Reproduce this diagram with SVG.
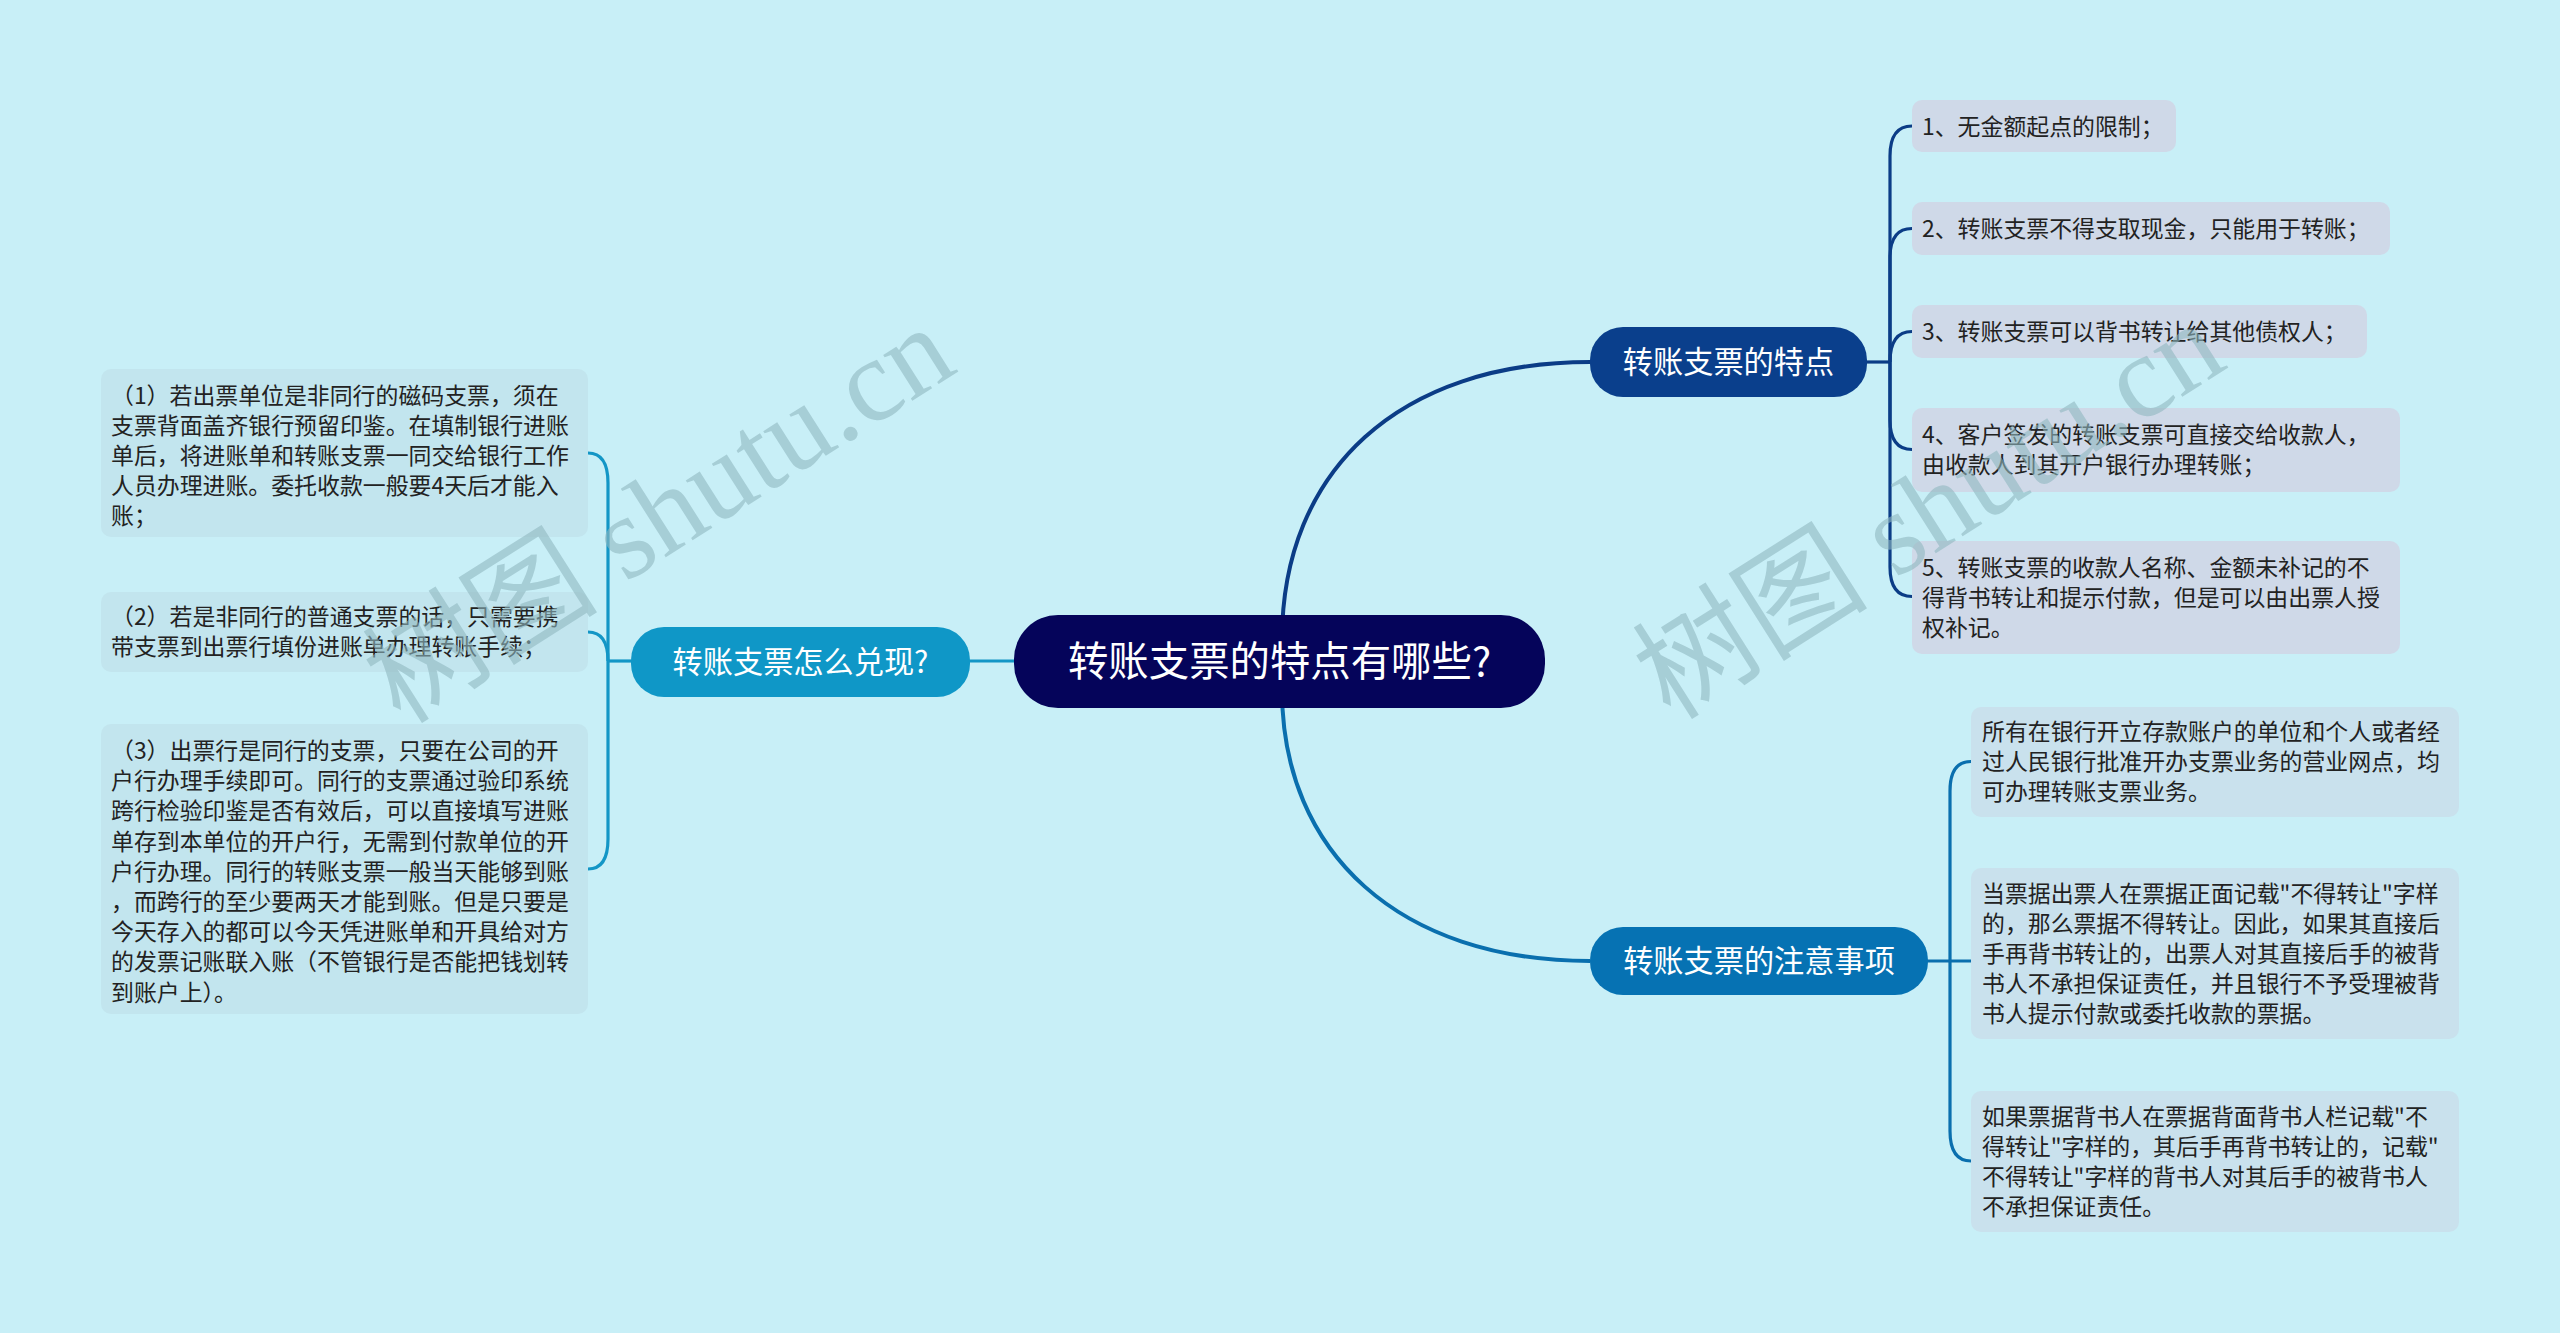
<svg xmlns="http://www.w3.org/2000/svg" width="2560" height="1333" viewBox="0 0 2560 1333">
<style>
.t{font-family:"Noto Sans CJK SC","Noto Sans",sans-serif;}
.leaf{font-size:22.9px;fill:#222222;}
.br{font-size:30.2px;fill:#ffffff;text-anchor:middle;}
.root{font-size:40.4px;fill:#ffffff;text-anchor:middle;}
.lf-l{fill:#c2e5ee;}
.lf-a{fill:#cfd9e8;}
.lf-b{fill:#c9e1ed;}
.c-l{fill:none;stroke:#1396c6;stroke-width:3.2;}
.c-a{fill:none;stroke:#0b3c86;stroke-width:3.2;}
.c-b{fill:none;stroke:#0a6fae;stroke-width:3.2;}
.wm{font-family:"Liberation Serif","Noto Sans CJK SC",serif;font-size:118px;fill:#8fb8bf;fill-opacity:0.6;text-anchor:middle;}
</style>
<rect x="0" y="0" width="2560" height="1333" fill="#c8eff7"/>

<g id="connectors">
  <path class="c-l" d="M1014,661 H970"/>
  <path class="c-a" style="stroke-width:4" d="M1282,640 C1282,470 1400,362 1590,362"/>
  <path class="c-b" style="stroke-width:4" d="M1282,690 C1282,853 1400,961 1590,961"/>
  <path class="c-l" d="M631,661 H608"/>
  <path class="c-l" d="M608,661 V483 Q608,453 588,453"/>
  <path class="c-l" d="M608,661 Q608,632 588,632"/>
  <path class="c-l" d="M608,661 V839 Q608,869 588,869"/>
  <path class="c-a" d="M1867,362 H1890"/>
  <path class="c-a" d="M1890,362 V156 Q1890,126 1912,126"/>
  <path class="c-a" d="M1890,362 V258 Q1890,228.5 1912,228.5"/>
  <path class="c-a" d="M1890,362 Q1890,331.5 1912,331.5"/>
  <path class="c-a" d="M1890,362 V420 Q1890,449.5 1912,449.5"/>
  <path class="c-a" d="M1890,362 V567 Q1890,596.5 1912,596.5"/>
  <path class="c-b" d="M1928,961 H1971"/>
  <path class="c-b" d="M1950,961 V791 Q1950,761.5 1971,761.5"/>
  <path class="c-b" d="M1950,961 V1131 Q1950,1161 1971,1161"/>
</g>

<g id="root">
  <rect x="1014" y="615" width="531" height="93" rx="44" fill="#05045a"/>
  <text class="t root" x="1279.5" y="676">转账支票的特点有哪些?</text>
</g>

<g id="branch-left">
  <rect x="631" y="627" width="339" height="70" rx="33" fill="#0f97c7"/>
  <text class="t br" x="800.5" y="673">转账支票怎么兑现?</text>
</g>

<g id="branch-r1">
  <rect x="1590" y="327" width="277" height="70" rx="33" fill="#0a3f8c"/>
  <text class="t br" x="1728.5" y="373">转账支票的特点</text>
</g>

<g id="branch-r2">
  <rect x="1590" y="927" width="338" height="68" rx="33" fill="#0672b3"/>
  <text class="t br" x="1759" y="972">转账支票的注意事项</text>
</g>

<g id="leaf-l1">
  <rect class="lf-l" x="101" y="369" width="487" height="168" rx="10"/>
  <text class="t leaf" x="111" y="404"><tspan x="111">（1）若出票单位是非同行的磁码支票，须在</tspan><tspan x="111" dy="30">支票背面盖齐银行预留印鉴。在填制银行进账</tspan><tspan x="111" dy="30">单后，将进账单和转账支票一同交给银行工作</tspan><tspan x="111" dy="30">人员办理进账。委托收款一般要4天后才能入</tspan><tspan x="111" dy="30">账；</tspan></text>
</g>

<g id="leaf-l2">
  <rect class="lf-l" x="101" y="592" width="487" height="80" rx="10"/>
  <text class="t leaf" x="111" y="625"><tspan x="111">（2）若是非同行的普通支票的话，只需要携</tspan><tspan x="111" dy="30">带支票到出票行填份进账单办理转账手续；</tspan></text>
</g>

<g id="leaf-l3">
  <rect class="lf-l" x="101" y="724" width="487" height="290" rx="10"/>
  <text class="t leaf" x="111" y="759"><tspan x="111">（3）出票行是同行的支票，只要在公司的开</tspan><tspan x="111" dy="30.2">户行办理手续即可。同行的支票通过验印系统</tspan><tspan x="111" dy="30.2">跨行检验印鉴是否有效后，可以直接填写进账</tspan><tspan x="111" dy="30.2">单存到本单位的开户行，无需到付款单位的开</tspan><tspan x="111" dy="30.2">户行办理。同行的转账支票一般当天能够到账</tspan><tspan x="111" dy="30.2">，而跨行的至少要两天才能到账。但是只要是</tspan><tspan x="111" dy="30.2">今天存入的都可以今天凭进账单和开具给对方</tspan><tspan x="111" dy="30.2">的发票记账联入账（不管银行是否能把钱划转</tspan><tspan x="111" dy="30.2">到账户上）。</tspan></text>
</g>

<g id="leaf-r1-1">
  <rect class="lf-a" x="1912" y="100" width="264" height="52" rx="10"/>
  <text class="t leaf" x="1922" y="135">1、无金额起点的限制；</text>
</g>
<g id="leaf-r1-2">
  <rect class="lf-a" x="1912" y="202" width="478" height="53" rx="10"/>
  <text class="t leaf" x="1922" y="237">2、转账支票不得支取现金，只能用于转账；</text>
</g>
<g id="leaf-r1-3">
  <rect class="lf-a" x="1912" y="305" width="455" height="53" rx="10"/>
  <text class="t leaf" x="1922" y="340">3、转账支票可以背书转让给其他债权人；</text>
</g>
<g id="leaf-r1-4">
  <rect class="lf-a" x="1912" y="408" width="488" height="84" rx="10"/>
  <text class="t leaf" x="1922" y="443"><tspan x="1922">4、客户签发的转账支票可直接交给收款人，</tspan><tspan x="1922" dy="30">由收款人到其开户银行办理转账；</tspan></text>
</g>
<g id="leaf-r1-5">
  <rect class="lf-a" x="1912" y="541" width="488" height="113" rx="10"/>
  <text class="t leaf" x="1922" y="576"><tspan x="1922">5、转账支票的收款人名称、金额未补记的不</tspan><tspan x="1922" dy="30">得背书转让和提示付款，但是可以由出票人授</tspan><tspan x="1922" dy="30">权补记。</tspan></text>
</g>

<g id="leaf-r2-1">
  <rect class="lf-b" x="1971" y="707" width="488" height="110" rx="10"/>
  <text class="t leaf" x="1982" y="740"><tspan x="1982">所有在银行开立存款账户的单位和个人或者经</tspan><tspan x="1982" dy="30">过人民银行批准开办支票业务的营业网点，均</tspan><tspan x="1982" dy="30">可办理转账支票业务。</tspan></text>
</g>
<g id="leaf-r2-2">
  <rect class="lf-b" x="1971" y="868" width="488" height="171" rx="10"/>
  <text class="t leaf" x="1982" y="902"><tspan x="1982">当票据出票人在票据正面记载"不得转让"字样</tspan><tspan x="1982" dy="30">的，那么票据不得转让。因此，如果其直接后</tspan><tspan x="1982" dy="30">手再背书转让的，出票人对其直接后手的被背</tspan><tspan x="1982" dy="30">书人不承担保证责任，并且银行不予受理被背</tspan><tspan x="1982" dy="30">书人提示付款或委托收款的票据。</tspan></text>
</g>
<g id="leaf-r2-3">
  <rect class="lf-b" x="1971" y="1091" width="488" height="141" rx="10"/>
  <text class="t leaf" x="1982" y="1125"><tspan x="1982">如果票据背书人在票据背面背书人栏记载"不</tspan><tspan x="1982" dy="30">得转让"字样的，其后手再背书转让的，记载"</tspan><tspan x="1982" dy="30">不得转让"字样的背书人对其后手的被背书人</tspan><tspan x="1982" dy="30">不承担保证责任。</tspan></text>
</g>

<g id="watermarks">
  <text class="wm" transform="translate(660,516) rotate(-32.4)" y="38">树图 shutu.cn</text>
  <text class="wm" transform="translate(1930,512) rotate(-32.4)" y="38">树图 shutu.cn</text>
</g>
</svg>
